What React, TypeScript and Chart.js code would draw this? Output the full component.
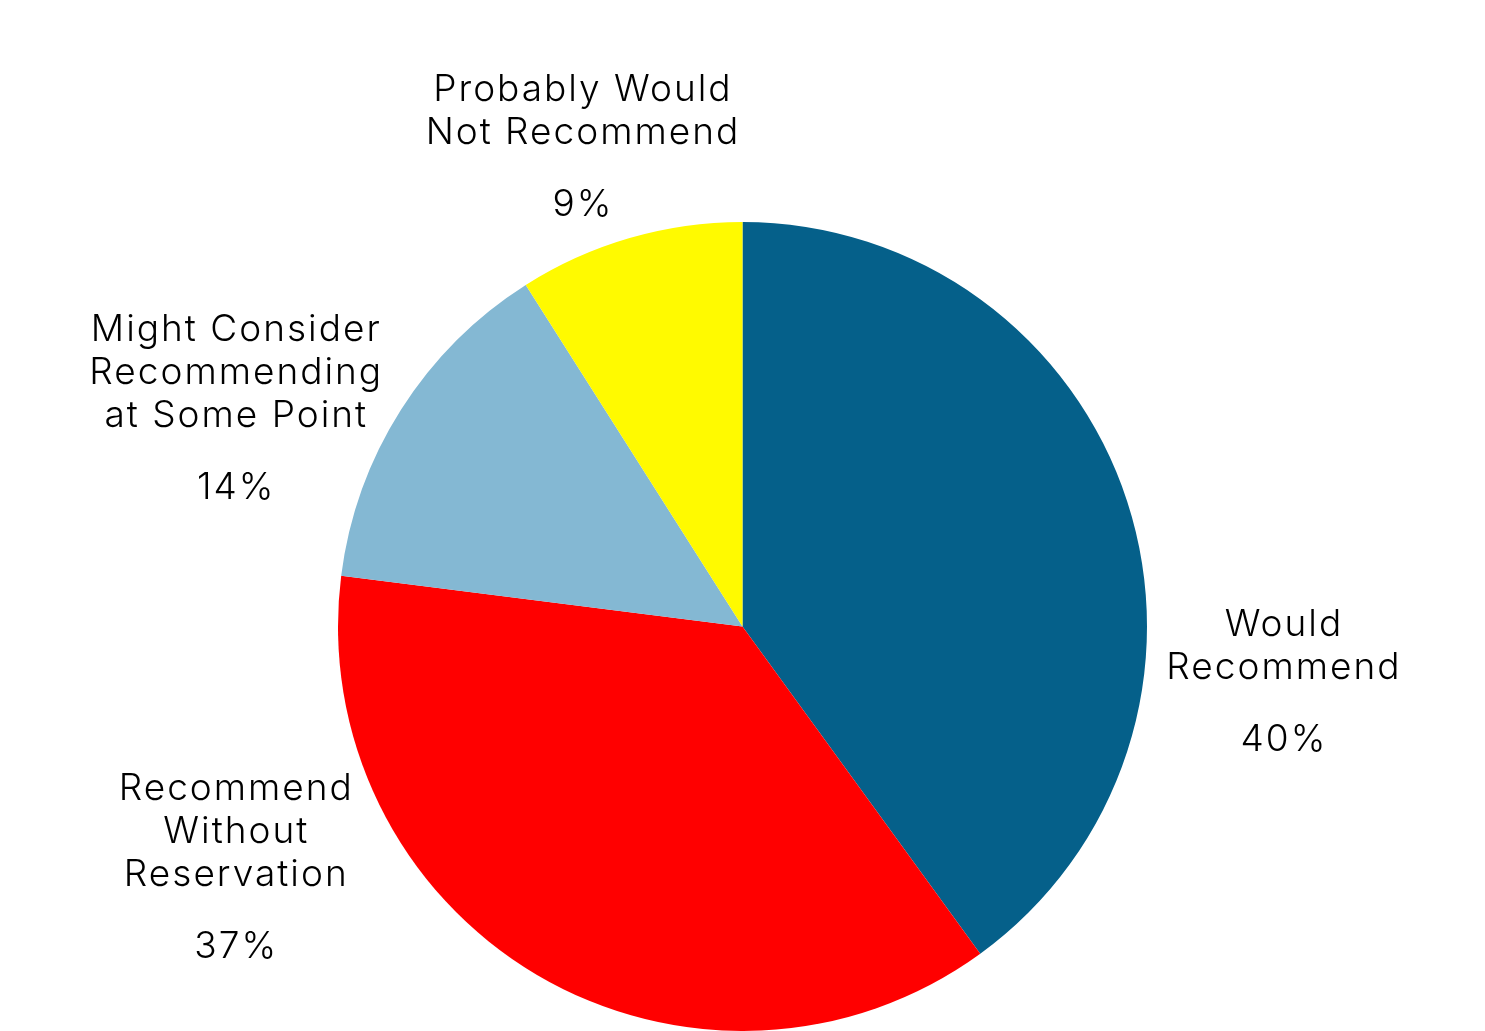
import React, { useEffect, useRef } from "react";
import { Chart, registerables } from "chart.js";

Chart.register(...registerables);

const categories: string[][] = [
  ["Would", "Recommend"],
  ["Recommend", "Without", "Reservation"],
  ["Might Consider", "Recommending", "at Some Point"],
  ["Probably Would", "Not Recommend"],
];
const values: number[] = [40, 37, 14, 9];
const colors: string[] = ["#05608A", "#FF0000", "#84B8D3", "#FFFA00"];

// label anchors (first-line centre) relative to pie centre, in units of radius
const labelOffsets: number[][] = [
  [1.336, -0.005],
  [-1.254, 0.402],
  [-1.254, -0.733],
  [-0.397, -1.326],
];

const FONT = "300 37px Inter, 'Noto Sans', sans-serif";

const outsideLabels = {
  id: "outsideLabels",
  afterDatasetsDraw(chart: any) {
    const ctx = chart.ctx;
    const meta = chart.getDatasetMeta(0);
    const total = values.reduce((a, b) => a + b, 0);
    ctx.save();
    ctx.font = FONT;
    try {
      (ctx as any).letterSpacing = "2px";
    } catch (e) {}
    ctx.fillStyle = "#000000";
    ctx.textAlign = "center";
    ctx.textBaseline = "middle";
    meta.data.forEach((arc: any, i: number) => {
      const { x, y, outerRadius } = arc.getProps(["x", "y", "outerRadius"], true);
      const ax = x + labelOffsets[i][0] * outerRadius;
      const ay = y + labelOffsets[i][1] * outerRadius;
      const lines = categories[i];
      lines.forEach((ln, j) => {
        ctx.fillText(ln, ax + 1, ay + j * 43);
      });
      const pct = Math.round((values[i] / total) * 100) + "%";
      ctx.fillText(pct, ax + 1, ay + (lines.length - 1) * 43 + 72);
    });
    ctx.restore();
  },
};

export default function App() {
  const ref = useRef<HTMLCanvasElement>(null);
  useEffect(() => {
    document.body.style.margin = "0";
    const chart = new Chart(ref.current!, {
      type: "pie",
      data: {
        labels: categories.map((c) => c.join(" ")),
        datasets: [
          {
            data: values,
            backgroundColor: colors,
            borderWidth: 0,
          },
        ],
      },
      options: {
        animation: false,
        responsive: false,
        maintainAspectRatio: false,
        layout: { padding: { top: 222, bottom: 0, left: 0, right: 0 } },
        plugins: {
          legend: { display: false },
          tooltip: { enabled: false },
        },
      },
      plugins: [outsideLabels],
    });
    return () => chart.destroy();
  }, []);
  return (
    <div style={{ position: "fixed", left: 0, top: 0, width: 1485, height: 1031, background: "#fff" }}>
      <canvas ref={ref} width={1485} height={1031} style={{ width: 1485, height: 1031 }} />
    </div>
  );
}
